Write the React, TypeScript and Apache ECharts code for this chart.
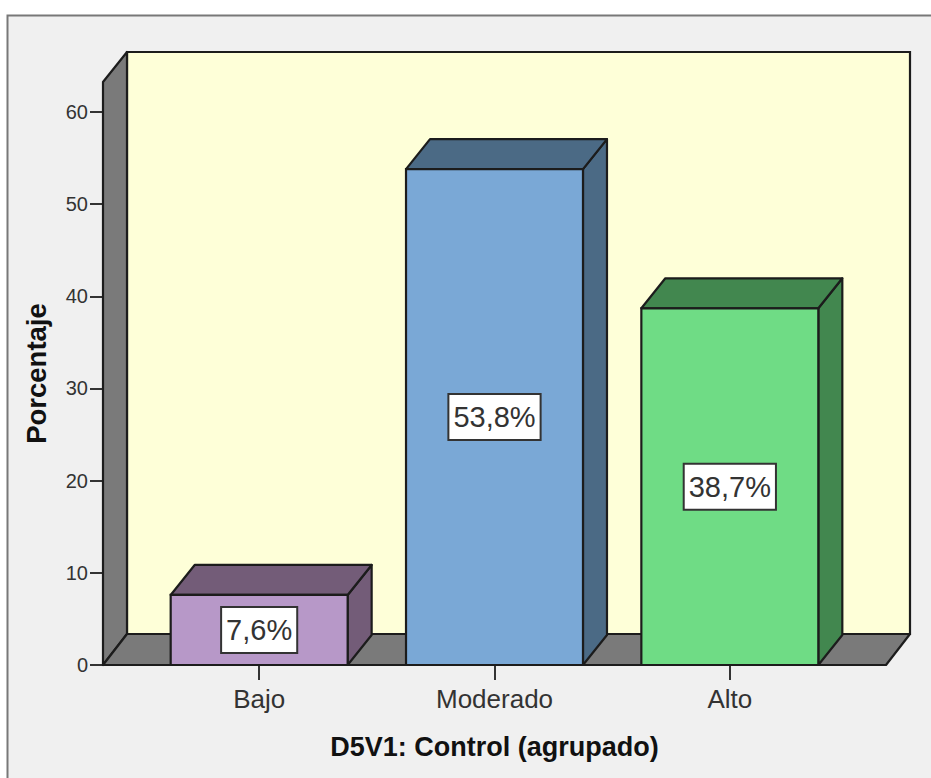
import React, { useEffect, useRef } from "react";
import * as echarts from "echarts";

const categories = ["Bajo", "Moderado", "Alto"];
const percentages = [7.6, 53.8, 38.7];
const yTicks = [0, 10, 20, 30, 40, 50, 60];
const yMax = 63.25;
const xTitle = "D5V1: Control (agrupado)";
const yTitle = "Porcentaje";

const faceColors = ["#b798c8", "#7aa8d6", "#6fdc85"];
const sideColors = ["#735c78", "#4b6a85", "#42874f"];
const FONT = "'Liberation Sans', Arial, sans-serif";
const DX = 24;
const DY = 30;
const LINE = "#1c1c1c";
const SIDE_PAD = 38.5;

const poly = (points: number[][], fill: string, lw = 2.2) => ({
  type: "polygon",
  shape: { points },
  style: { fill, stroke: LINE, lineWidth: lw, lineJoin: "round" },
});

export default function App() {
  const ref = useRef<HTMLDivElement>(null);
  useEffect(() => {
    const chart = echarts.init(ref.current!, undefined, { renderer: "svg" });
    chart.setOption({
      animation: false,
      backgroundColor: "#ffffff",
      textStyle: { fontFamily: FONT },
      graphic: [
        {
          type: "rect",
          z: -10,
          silent: true,
          shape: { x: 7.5, y: 15.5, width: 930, height: 770 },
          style: { fill: "#f0f0f0", stroke: "#787878", lineWidth: 2 },
        },
      ],
      grid: { left: 141.5, right: 83.5, top: 82, bottom: 113, outerBoundsMode: "none" },
      xAxis: {
        type: "category",
        data: categories,
        name: xTitle,
        nameLocation: "middle",
        nameGap: 68,
        nameTextStyle: { fontSize: 27, fontWeight: "bold", color: "#111", fontFamily: FONT },
        axisLine: { show: false },
        axisTick: { show: true, alignWithLabel: true, length: 15, lineStyle: { color: "#333", width: 2 } },
        axisLabel: { fontSize: 26, color: "#333", margin: 21, fontFamily: FONT },
        splitLine: { show: false },
      },
      yAxis: {
        type: "value",
        min: 0,
        max: yMax,
        offset: SIDE_PAD,
        name: yTitle,
        nameLocation: "middle",
        nameGap: 53,
        nameTextStyle: { fontSize: 27.5, fontWeight: "bold", color: "#111", fontFamily: FONT },
        axisLine: { show: false },
        axisTick: { show: true, length: 13, customValues: yTicks, lineStyle: { color: "#333", width: 2 } },
        axisLabel: { fontSize: 20, color: "#333", margin: 15, customValues: yTicks, fontFamily: FONT },
        splitLine: { show: false },
      },
      series: [
        {
          type: "custom",
          z: 1,
          silent: true,
          clip: false,
          data: [[0, 0]],
          renderItem: (p: any) => {
            const c = p.coordSys;
            const l = c.x - SIDE_PAD;
            const r = c.x + c.width + SIDE_PAD;
            const t = c.y;
            const b = c.y + c.height;
            const dyFloor = 31;
            return {
              type: "group",
              children: [
                {
                  type: "rect",
                  shape: { x: l + DX, y: t - DY, width: r - l, height: c.height + DY - dyFloor },
                  style: { fill: "#feffd8", stroke: LINE, lineWidth: 2.2 },
                },
                poly([[l, t], [l + DX, t - DY], [l + DX, b - dyFloor], [l, b]], "#7a7a7a"),
                poly([[l, b], [l + DX, b - dyFloor], [r + DX, b - dyFloor], [r, b]], "#7a7a7a"),
              ],
            };
          },
        },
        {
          type: "custom",
          z: 3,
          clip: false,
          data: percentages.map((v, i) => [i, v]),
          encode: { x: 0, y: 1 },
          renderItem: (p: any, api: any) => {
            const i = p.dataIndex;
            const value = api.value(1);
            const [cx, yTop] = api.coord([api.value(0), value]);
            const [, yBase] = api.coord([api.value(0), 0]);
            const w = api.size([1, 0])[0] * 0.752;
            const x0 = cx - w / 2;
            const x1 = cx + w / 2;
            const label = `${value.toFixed(1).replace(".", ",")}%`;
            return {
              type: "group",
              children: [
                poly([[x1, yBase], [x1 + DX, yBase - DY], [x1 + DX, yTop - DY], [x1, yTop]], sideColors[i]),
                poly([[x0, yTop], [x0 + DX, yTop - DY], [x1 + DX, yTop - DY], [x1, yTop]], sideColors[i]),
                {
                  type: "rect",
                  shape: { x: x0, y: yTop, width: w, height: yBase - yTop },
                  style: { fill: faceColors[i], stroke: LINE, lineWidth: 2.2 },
                },
                {
                  type: "text",
                  x: cx,
                  y: (yTop + yBase) / 2,
                  style: {
                    text: label,
                    fontSize: 29,
                    fontFamily: FONT,
                    fill: "#333",
                    align: "center",
                    verticalAlign: "middle",
                    backgroundColor: "#ffffff",
                    borderColor: "#333",
                    borderWidth: 2,
                    padding: [8, 4, 7, 4],
                  },
                },
              ],
            };
          },
        },
        {
          type: "custom",
          z: 4,
          silent: true,
          clip: false,
          data: [[0, 0]],
          renderItem: (p: any) => {
            const c = p.coordSys;
            const b = c.y + c.height;
            return {
              type: "line",
              shape: { x1: c.x - SIDE_PAD, y1: b, x2: c.x + c.width + SIDE_PAD, y2: b },
              style: { stroke: LINE, lineWidth: 2.2 },
            };
          },
        },
      ],
    });
    return () => chart.dispose();
  }, []);
  return <div ref={ref} style={{ position: "fixed", left: 0, top: 0, width: 931, height: 778 }} />;
}
